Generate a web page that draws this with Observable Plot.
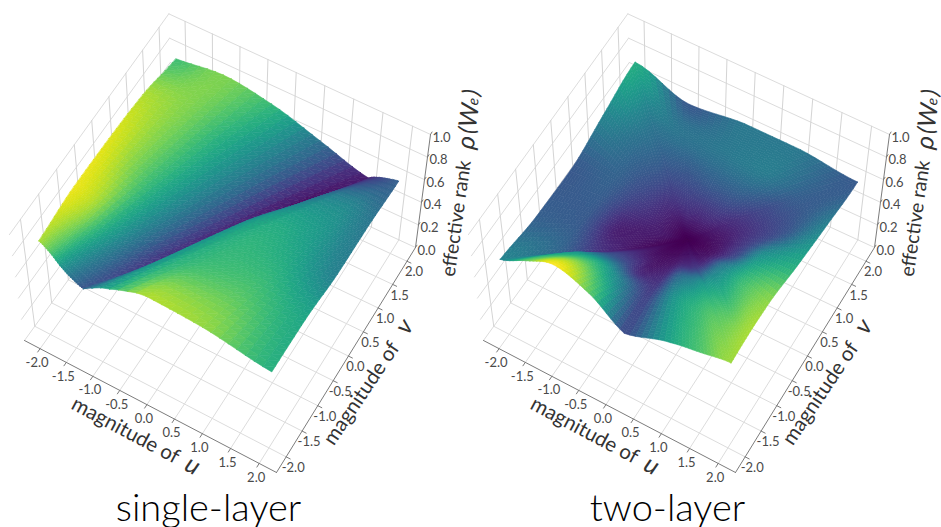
<!DOCTYPE html>
<html><head><meta charset="utf-8">
<style>html,body{margin:0;padding:0;background:#fff}svg{display:block}</style>
<script src="https://cdn.jsdelivr.net/npm/d3@7"></script>
<script src="https://cdn.jsdelivr.net/npm/@observablehq/plot@0.6"></script>
</head><body><script>
// ---------- data ----------
const uTicks = [-2, -1.5, -1, -0.5, 0, 0.5, 1, 1.5, 2];
const vTicks = [-2, -1.5, -1, -0.5, 0, 0.5, 1, 1.5, 2];
const rankTicks = [0, 0.2, 0.4, 0.6, 0.8, 1];

// single-layer: rows of constant v, knots placed from the u=-2 edge to the crease, then on to u=2
const singleV = [-2, -1, 0, 1, 2];
const singleCreaseU = [-1.25, -0.55, 0.13, 0.8, 1.5];
const singleKnotsLeft = [0, 0.25, 0.5, 0.75, 1];
const singleKnotsRight = [0.05, 0.1, 0.2, 0.35, 0.6, 1];
const singleRank = [
  [.878,.818,.730,.670,.630, .682,.730,.802,.882,.870,.778],
  [.918,.882,.770,.670,.578, .662,.730,.778,.802,.810,.762],
  [.910,.850,.770,.670,.546, .662,.718,.762,.778,.762,.698],
  [.882,.850,.770,.674,.530, .590,.630,.682,.714,.718,.682],
  [.802,.850,.794,.674,.550, .558,.570,.582,.598,.618,.642]
];
// two-layer: rays from the lowest point to the square's edge, values at fractions of each ray
const twoLowest = [0.12, 0];
const twoRayU = [-2,-1.5,-1,-0.4,0.2,1,1.5,2,2,2,2,2,2,1,0,-1,-2,-2,-2,-2];
const twoRayV = [-2,-2,-2,-2,-2,-2,-2,-2,-1.5,-1,0,1,2,2,2,2,2,1,0,-1];
const twoRings = [0, 0.2, 0.45, 0.7, 1];
const twoCentre = 0.52;
const twoRank = [
  [.532,.573,.655,.705],[.540,.610,.746,.828],[.532,.602,.774,.930],[.532,.561,.705,.828],
  [.536,.573,.602,.610],[.553,.676,.746,.758],[.561,.709,.791,.815],[.573,.741,.823,.869],
  [.557,.717,.799,.877],[.545,.692,.799,.865],
  [.532,.602,.725,.774],[.540,.582,.623,.696],[.561,.610,.643,.635],[.573,.643,.692,.684],
  [.573,.643,.684,.684],[.582,.635,.676,.631],[.582,.643,.692,.774],[.561,.623,.664,.705],
  [.553,.594,.643,.631],[.549,.553,.635,.643]
];

// ---------- view of the box ----------
const R = 2.3, PANEL2 = 459;
const corners = {A:[24,340],B:[276,472],C:[415,247],D:[172,135]};
const vanish = [220,1715], lift = 0.077;
const H = (() => {
  const [x0,y0]=corners.A,[x1,y1]=corners.B,[x2,y2]=corners.C,[x3,y3]=corners.D;
  const dx1=x1-x2,dx2=x3-x2,sx=x0-x1+x2-x3,dy1=y1-y2,dy2=y3-y2,sy=y0-y1+y2-y3;
  const den=dx1*dy2-dx2*dy1,g=(sx*dy2-dx2*sy)/den,h=(dx1*sy-sx*dy1)/den;
  return {a:x1-x0+g*x1,b:x3-x0+h*x3,c:x0,d:y1-y0+g*y1,e:y3-y0+h*y3,f:y0,g,h};
})();
function project(u,v,z,off=0){
  const s=(u+R)/(2*R),t=(v+R)/(2*R),w=H.g*s+H.h*t+1;
  const fx=(H.a*s+H.b*t+H.c)/w,fy=(H.d*s+H.e*t+H.f)/w,k=1+lift*z;
  return [vanish[0]+(fx-vanish[0])*k+off, vanish[1]+(fy-vanish[1])*k];
}

// ---------- smoothing of a table of read values for drawing (monotone, no overshoot) ----------
const slope=(d0,d1)=>d0*d1<=0?0:2*d0*d1/(d0+d1);
function hermite(a,b,c,d,t){
  const d0=b-a,d1=c-b,d2=d-c;
  const m1=d0===0?d1*0.5:slope(d0,d1), m2=d2===0?d1*0.5:slope(d1,d2);
  const t2=t*t,t3=t2*t;
  return (2*t3-3*t2+1)*b+(t3-2*t2+t)*m1+(-2*t3+3*t2)*c+(t3-t2)*m2;
}
function nbrs(k,n,wrap,breaks){
  const m=x=>((x%n)+n)%n, b=wrap?m(k):k, c=wrap?m(k+1):k+1;
  let a=wrap?m(k-1):k-1, d=wrap?m(k+2):k+2;
  if(breaks.includes(b)||(!wrap&&a<0)) a=b;
  if(breaks.includes(c)||(!wrap&&d>=n)) d=c;
  return [a,b,c,d];
}
const steps=(counts)=>{const out=[0];counts.forEach((n,k)=>{for(let s=1;s<=n;s++)out.push(k+s/n);});return out;};
function meshCells(spec,off,idBase){
  const {Z,U,V,wrapI,breaksI,subI,subJ,split}=spec, nJ=Z.length,nI=Z[0].length,segI=wrapI?nI:nI-1,segJ=nJ-1;
  const pt=(fi,fj)=>{
    const i=Math.min(Math.floor(fi),segI-1),j=Math.min(Math.floor(fj),segJ-1),ti=fi-i,tj=fj-j;
    const ni=nbrs(i,nI,wrapI,breaksI),nj=nbrs(j,nJ,false,[]);
    const row=k=>hermite(Z[k][ni[0]],Z[k][ni[1]],Z[k][ni[2]],Z[k][ni[3]],ti);
    const z=hermite(row(nj[0]),row(nj[1]),row(nj[2]),row(nj[3]),tj);
    const lerp=T=>(T[j][ni[1]]*(1-ti)+T[j][ni[2]]*ti)*(1-tj)+(T[j+1][ni[1]]*(1-ti)+T[j+1][ni[2]]*ti)*tj;
    return {u:lerp(U),v:lerp(V),z};
  };
  const cells=[];
  const A=steps(subI),B=steps(d3.range(segJ).map(()=>subJ));
  for(let a=0;a<A.length-1;a++)for(let b=0;b<B.length-1;b++){
    const q=[pt(A[a],B[b]),pt(A[a+1],B[b]),pt(A[a+1],B[b+1]),pt(A[a],B[b+1])];
    if(split)cells.push([q[0],q[1],q[2]],[q[0],q[2],q[3]]);else cells.push(q);
  }
  cells.forEach(t=>t.depth=d3.mean(t,p=>p.u-p.v));
  cells.sort((x,y)=>x.depth-y.depth);
  const rows=[];
  cells.forEach((t,n)=>{const c=d3.mean(t,p=>p.z);t.forEach(p=>{const [x,y]=project(p.u,p.v,p.z,off);rows.push({id:idBase+n,x,y,c});});});
  return rows;
}
const singleSpec=(()=>{
  const U=[],V=[];
  singleV.forEach((v,j)=>{
    const uc=singleCreaseU[j];
    U.push([...singleKnotsLeft.map(f=>-2+(uc+2)*f),...singleKnotsRight.map(f=>uc+(2-uc)*f)]);
    V.push(U[j].map(()=>v));
  });
  return {Z:singleRank,U,V,wrapI:false,breaksI:[4],subI:[6,6,6,6,1,1,2,3,6,9],subJ:9,split:true};
})();
const twoSpec=(()=>{
  const Z=[twoRayU.map(()=>twoCentre)],U=[],V=[];
  twoRings.forEach((r,j)=>{
    U.push(twoRayU.map(u=>twoLowest[0]+(u-twoLowest[0])*r));
    V.push(twoRayV.map(v=>twoLowest[1]+(v-twoLowest[1])*r));
    if(j>0)Z.push(twoRank.map(row=>row[j-1]));
  });
  return {Z,U,V,wrapI:true,breaksI:[0,4],subI:twoRayU.map(()=>8),subJ:14,split:false};
})();
const surface=[...meshCells(singleSpec,0,0),...meshCells(twoSpec,PANEL2,100000)];

// ---------- grid, axes, labels ----------
const floorSegs=[],wallV=[],wallH=[],axisSegs=[],tickSegs=[],labels=[];
let sid=0;
const seg=(arr,p,q)=>{sid++;arr.push({id:sid,x:p[0],y:p[1]},{id:sid,x:q[0],y:q[1]});};
for(const off of [0,PANEL2]){
  uTicks.forEach(u=>{
    seg(floorSegs,project(u,-R,0,off),project(u,R,0,off));
    seg(wallV,project(u,R,0,off),project(u,R,1,off));
    seg(tickSegs,project(u,-R,0,off),project(u,-R-.07,0,off));
    const p=project(u,-R,0,off);labels.push({x:p[0]-3,y:p[1]+14,t:u.toFixed(1)});
  });
  vTicks.forEach(v=>{
    seg(floorSegs,project(-R,v,0,off),project(R,v,0,off));
    seg(wallV,project(-R,v,0,off),project(-R,v,1,off));
    seg(tickSegs,project(R,v,0,off),project(R+.07,v,0,off));
    const p=project(R,v,0,off);labels.push({x:p[0]+7,y:p[1]+11,t:v.toFixed(1)});
  });
  rankTicks.forEach(z=>{
    seg(wallH,project(-R,-R,z,off),project(-R,R,z,off));
    seg(wallH,project(-R,R,z,off),project(R,R,z,off));
    seg(tickSegs,project(R,R,z,off),project(R,R+.05,z,off));
    const p=project(R,R,z,off);labels.push({x:p[0]+11,y:p[1]+3,t:z.toFixed(1)});
  });
  seg(axisSegs,project(-R,-R,0,off),project(R,-R,0,off));
  seg(axisSegs,project(R,-R,0,off),project(R,R,0,off));
  seg(axisSegs,project(R,R,0,off),project(R,R,1,off));
}
const FONT="Lato";
const axisTitles=[];
const italics=[];
for(const off of [0,PANEL2]){
  axisTitles.push({x:125+off,y:430,t:"magnitude of",r:28,s:20.5});
  italics.push({x:192+off,y:465,t:"u",r:28,s:25});
  axisTitles.push({x:361+off,y:393,t:"magnitude of",r:-56,s:20.5});
  italics.push({x:404+off,y:326,t:"v",r:-56,s:25});
  axisTitles.push({x:456+off,y:218,t:"effective rank",r:-82,s:19.5});
  italics.push({x:466+off,y:142,t:"ρ",r:-82,s:25});
  italics.push({x:467+off,y:130,t:"(",r:-82,s:23});
  italics.push({x:469+off,y:115,t:"W",r:-82,s:25});
  italics.push({x:473+off,y:101,t:"e",r:-82,s:15});
  italics.push({x:471+off,y:92,t:")",r:-82,s:23});
}
const titles=[{x:208,y:508,t:"single-layer"},{x:667,y:508,t:"two-layer"}];

const line=(data,stroke,w)=>Plot.line(data,{x:"x",y:"y",z:"id",stroke,strokeWidth:w,curve:"linear"});
const chart=Plot.plot({
  width:941,height:527,margin:0,
  x:{domain:[0,941],range:[0,941],axis:null},
  y:{domain:[0,527],range:[0,527],axis:null},
  color:{type:"linear",scheme:"viridis",domain:[.52,.93],clamp:true},
  style:{background:"#fff"},
  marks:[
    line(floorSegs,"#dcdcdc",1),
    line(wallH,"#dcdcdc",1),
    line(wallV,"#d4d4d4",1),
    line(axisSegs,"#7c7c7c",1),
    line(tickSegs,"#7c7c7c",1),
    Plot.line(surface,{x:"x",y:"y",z:"id",fill:"c",stroke:"c",strokeWidth:.6,curve:"linear-closed"}),
    Plot.text(labels,{x:"x",y:"y",text:"t",fontFamily:FONT,fontSize:13,fill:"#4a4a4a"}),
    Plot.text(axisTitles,{x:"x",y:"y",text:"t",rotate:"r",fontSize:"s",fontFamily:FONT,fontWeight:400,fill:"#333"}),
    Plot.text(italics,{x:"x",y:"y",text:"t",rotate:"r",fontSize:"s",fontFamily:FONT,fontStyle:"italic",fontWeight:400,fill:"#333"}),
    Plot.text(titles,{x:"x",y:"y",text:"t",fontFamily:FONT,fontSize:38,fontWeight:300,fill:"#000"})
  ]
});
document.body.appendChild(chart);
</script></body></html>
